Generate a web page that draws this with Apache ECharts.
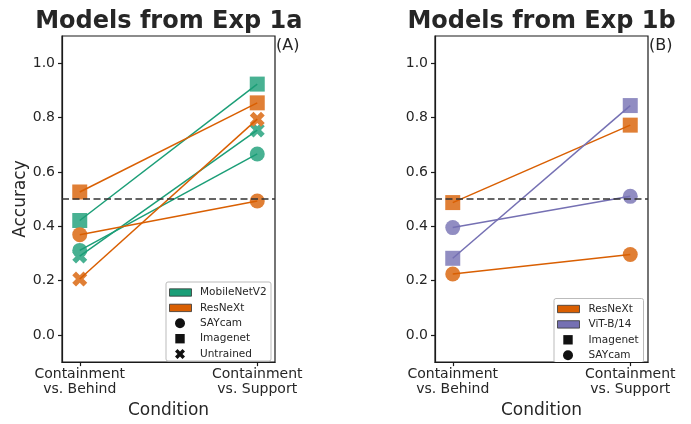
<!DOCTYPE html>
<html>
<head>
<meta charset="utf-8">
<script src="https://cdn.jsdelivr.net/npm/echarts@6/dist/echarts.min.js"></script>
<style>
html,body{margin:0;padding:0;background:#fff;}
#chart{width:691px;height:424px;}
</style>
</head>
<body>
<div id="chart"></div>
<script>
// ---- data ----
const conditions = ['Containment\nvs. Behind', 'Containment\nvs. Support'];
const yTicks = [0, 0.2, 0.4, 0.6, 0.8, 1.0];
const chanceLevel = 0.5;

// Panel A: Models from Exp 1a
const mobilenetSaycamA = [0.311, 0.666];
const mobilenetImagenetA = [0.421, 0.923];
const mobilenetUntrainedA = [0.290, 0.754];
const resnextSaycamA = [0.369, 0.493];
const resnextImagenetA = [0.526, 0.854];
const resnextUntrainedA = [0.206, 0.794];

// Panel B: Models from Exp 1b
const resnextImagenetB = [0.487, 0.772];
const resnextSaycamB = [0.224, 0.296];
const vitImagenetB = [0.282, 0.844];
const vitSaycamB = [0.395, 0.510];

// ---- styles ----
const GREEN = '#1b9e77', ORANGE = '#d95f02', PURPLE = '#7570b3';
const MARK = { '#1b9e77': '#48b192', '#d95f02': '#e07f35', '#7570b3': '#918dc2' };
const XPTS = [[0,2.5],[2.5,0],[5,2.5],[7.5,0],[10,2.5],[7.5,5],[10,7.5],[7.5,10],[5,7.5],[2.5,10],[0,7.5],[2.5,5]];
const XPATH = 'path://M' + XPTS.map(p => p[0] + ',' + p[1]).join('L') + 'Z';
const SYM = { SAYcam: 'circle', Imagenet: 'rect', Untrained: XPATH };
const SIZE = { SAYcam: 15, Imagenet: 15, Untrained: 15 };
const TXT = '#262626';

const specs = [
  { panel: 0, model: 'MobileNetV2', kind: 'Imagenet', color: GREEN, vals: mobilenetImagenetA },
  { panel: 0, model: 'MobileNetV2', kind: 'SAYcam', color: GREEN, vals: mobilenetSaycamA },
  { panel: 0, model: 'MobileNetV2', kind: 'Untrained', color: GREEN, vals: mobilenetUntrainedA },
  { panel: 0, model: 'ResNeXt', kind: 'Imagenet', color: ORANGE, vals: resnextImagenetA },
  { panel: 0, model: 'ResNeXt', kind: 'SAYcam', color: ORANGE, vals: resnextSaycamA },
  { panel: 0, model: 'ResNeXt', kind: 'Untrained', color: ORANGE, vals: resnextUntrainedA },
  { panel: 1, model: 'ResNeXt', kind: 'Imagenet', color: ORANGE, vals: resnextImagenetB },
  { panel: 1, model: 'ResNeXt', kind: 'SAYcam', color: ORANGE, vals: resnextSaycamB },
  { panel: 1, model: 'ViT-B/14', kind: 'Imagenet', color: PURPLE, vals: vitImagenetB },
  { panel: 1, model: 'ViT-B/14', kind: 'SAYcam', color: PURPLE, vals: vitSaycamB }
];

const FONT = 'DejaVu Sans';
const grids = [
  { left: 62, top: 36, width: 213, height: 332 },
  { left: 435, top: 36, width: 213, height: 332 }
];

function xAxisCfg(i) {
  return {
    gridIndex: i, type: 'value', min: -0.1, max: 1.1, position: 'bottom',
    name: 'Condition', nameLocation: 'middle', nameGap: 35,
    nameTextStyle: { fontFamily: FONT, fontSize: 17, color: TXT },
    axisLine: { show: true, onZero: false, lineStyle: { color: '#1a1a1a', width: 1.2 } },
    axisTick: { show: true, inside: false, length: 4, customValues: [0, 1], lineStyle: { color: '#1a1a1a', width: 1.2 } },
    axisLabel: {
      customValues: [0, 1], margin: 5, fontFamily: FONT, fontSize: 14, lineHeight: 15, color: TXT,
      formatter: v => conditions[Math.round(v)]
    },
    splitLine: { show: false }
  };
}
function yAxisCfg(i) {
  return {
    gridIndex: i, type: 'value', min: -0.1, max: 1.1, position: 'left',
    name: i === 0 ? 'Accuracy' : '', nameLocation: 'middle', nameGap: 31,
    nameTextStyle: { fontFamily: FONT, fontSize: 17, color: TXT },
    axisLine: { show: true, onZero: false, lineStyle: { color: '#1a1a1a', width: 1.2 } },
    axisTick: { show: true, inside: false, length: 4, customValues: yTicks, lineStyle: { color: '#1a1a1a', width: 1.2 } },
    axisLabel: {
      customValues: yTicks, margin: 7, fontFamily: FONT, fontSize: 14, color: TXT,
      formatter: v => v.toFixed(1)
    },
    splitLine: { show: false }
  };
}

const series = [];
specs.forEach(s => {
  const pts = s.vals.map((v, k) => [k, v]);
  series.push({
    type: 'scatter', xAxisIndex: s.panel, yAxisIndex: s.panel, z: 2,
    name: s.model + ' ' + s.kind, data: pts,
    symbol: SYM[s.kind], symbolSize: SIZE[s.kind], silent: true,
    itemStyle: { color: MARK[s.color], opacity: 1 }
  });
  series.push({
    type: 'line', xAxisIndex: s.panel, yAxisIndex: s.panel, z: 3,
    name: s.model + ' ' + s.kind + ' line', data: pts,
    showSymbol: false, silent: true,
    lineStyle: { color: s.color, width: 1.5 }
  });
});
[0, 1].forEach(p => {
  series.push({
    type: 'line', xAxisIndex: p, yAxisIndex: p, data: [], z: 4, silent: true,
    markLine: {
      silent: true, symbol: 'none', label: { show: false },
      lineStyle: { color: '#333', width: 1.5, type: [7, 3.5] },
      data: [{ yAxis: chanceLevel }]
    }
  });
});

// ---- legends built as graphic groups ----
function legendGroup(x, y, w, h, rows, textX) {
  const children = [{
    type: 'rect', shape: { x: 0, y: 0, width: w, height: h, r: 2 },
    style: { fill: '#fff', stroke: '#bbbbbb', lineWidth: 1 }
  }];
  rows.forEach((r, i) => {
    const cy = 10.5 + i * 15.4;
    if (r.patch) {
      children.push({ type: 'rect', shape: { x: 3.5, y: cy - 3.7, width: 22, height: 7.4 },
        style: { fill: r.patch, stroke: '#333', lineWidth: 0.8 } });
    } else if (r.marker === 'circle') {
      children.push({ type: 'circle', shape: { cx: 14, cy: cy, r: 5 }, style: { fill: '#111' } });
    } else if (r.marker === 'rect') {
      children.push({ type: 'rect', shape: { x: 9.3, y: cy - 4.7, width: 9.4, height: 9.4 }, style: { fill: '#111' } });
    } else {
      const s = 1.0, ox = 14 - 5, oy = cy - 5;
      children.push({ type: 'polygon', shape: { points: XPTS.map(p => [ox + p[0] * s, oy + p[1] * s]) }, style: { fill: '#111' } });
    }
    children.push({ type: 'text', x: textX, y: cy,
      style: { text: r.label, fontFamily: FONT, fontSize: 10.5, fill: TXT, verticalAlign: 'middle', align: 'left' } });
  });
  return { type: 'group', x: x, y: y, children: children, silent: true };
}

const legendA = legendGroup(166, 282, 105, 79, [
  { label: 'MobileNetV2', patch: GREEN },
  { label: 'ResNeXt', patch: ORANGE },
  { label: 'SAYcam', marker: 'circle' },
  { label: 'Imagenet', marker: 'rect' },
  { label: 'Untrained', marker: 'X' }
], 34);
const legendB = legendGroup(554, 298.5, 89.5, 64, [
  { label: 'ResNeXt', patch: ORANGE },
  { label: 'ViT-B/14', patch: PURPLE },
  { label: 'Imagenet', marker: 'rect' },
  { label: 'SAYcam', marker: 'circle' }
], 34.5);

const chart = echarts.init(document.getElementById('chart'), null, { renderer: 'canvas' });
chart.setOption({
  backgroundColor: '#fff',
  animation: false,
  grid: grids.map(g => Object.assign({ show: true, borderColor: '#1a1a1a', borderWidth: 1.2, backgroundColor: 'transparent' }, g)),
  xAxis: [xAxisCfg(0), xAxisCfg(1)],
  yAxis: [yAxisCfg(0), yAxisCfg(1)],
  series: series,
  graphic: [
    { type: 'text', x: 168.8, y: 22, silent: true,
      style: { text: 'Models from Exp 1a', fontFamily: FONT, fontSize: 24, fontWeight: 'bold', fill: TXT, align: 'center', verticalAlign: 'middle' } },
    { type: 'text', x: 541.5, y: 22, silent: true,
      style: { text: 'Models from Exp 1b', fontFamily: FONT, fontSize: 24, fontWeight: 'bold', fill: TXT, align: 'center', verticalAlign: 'middle' } },
    { type: 'text', x: 276, y: 46, silent: true,
      style: { text: '(A)', fontFamily: FONT, fontSize: 16, fill: TXT, align: 'left', verticalAlign: 'middle' } },
    { type: 'text', x: 649, y: 46, silent: true,
      style: { text: '(B)', fontFamily: FONT, fontSize: 16, fill: TXT, align: 'left', verticalAlign: 'middle' } },
    legendA, legendB
  ]
});
</script>
</body>
</html>
